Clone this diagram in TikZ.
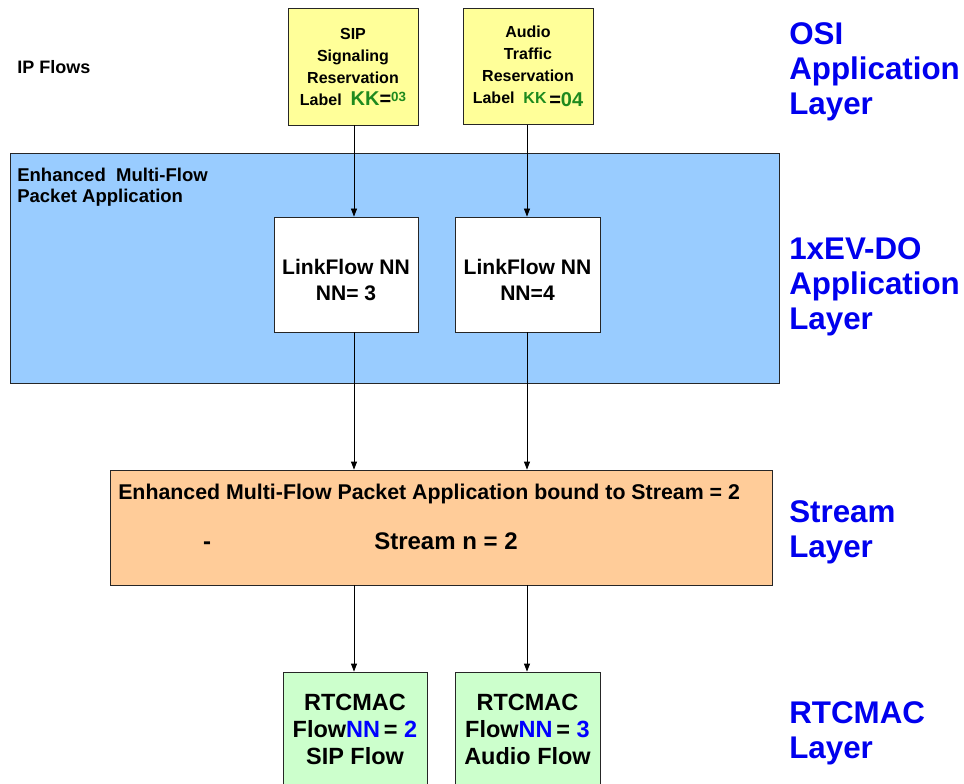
\documentclass[tikz,border=0pt]{standalone}
\usepackage{fontspec}
\setmainfont{Liberation Sans}
\usetikzlibrary{arrows.meta}

\definecolor{ipyellow}{HTML}{FFFF99}
\definecolor{appblue}{HTML}{99CCFF}
\definecolor{streamorange}{HTML}{FFCC99}
\definecolor{macgreen}{HTML}{CCFFCC}
\definecolor{layerblue}{HTML}{0000EE}
\definecolor{kkgreen}{HTML}{1E8A1E}

\def\px{0.75pt}
\newcommand{\fs}[2]{\fontsize{#1}{#2}\selectfont\bfseries}

\begin{document}
\begin{tikzpicture}[x=0.75pt, y=-0.75pt,
  box/.style={draw=black!85, line width=0.6pt, inner sep=0pt, align=center},
  flow/.style={-{Triangle[length=6pt,width=4.5pt]}, line width=0.6pt},
  layer/.style={anchor=north west, inner sep=0pt, align=left, text=layerblue, font=\fs{23.5}{26.3}}]

  % Page frame
  \clip (0,0) rectangle (964,784);

  % Lanes for the vertical connectors
  \coordinate (lane1) at (354,0);
  \coordinate (lane2) at (527,0);
  \coordinate (dashx) at (207,0);

  % IP flows (top)
  \node[anchor=west, inner sep=0pt, font=\fs{13.5}{16}] (ipflows) at (17,67) {IP Flows};
  \node[box, fill=ipyellow, minimum width=130*\px, minimum height=117*\px, font=\fs{12}{16.5}] (sip) at (353,66.5)
    {SIP\\Signaling\\Reservation\\Label\ \ \textcolor{kkgreen}{\fontsize{15}{15}\selectfont KK}{\fontsize{15}{15}\selectfont =}\textcolor{kkgreen}{\raisebox{3pt}{\fontsize{10}{10}\selectfont 03}}};
  \node[box, fill=ipyellow, minimum width=130*\px, minimum height=116*\px, font=\fs{12}{16.5}] (audio) at (528,66.5)
    {Audio\\Traffic\\Reservation\\Label\ \ \textcolor{kkgreen}{KK}\,\raisebox{-2pt}{\fontsize{15}{15}\selectfont =\textcolor{kkgreen}{04}}};

  % 1xEV-DO application block
  \node[box, fill=appblue, minimum width=769*\px, minimum height=230*\px] (app) at (394.5,268) {};
  \node[anchor=north west, inner sep=0pt, align=left, font=\fs{13.9}{15.8}] (apptitle) at (17,168)
    {Enhanced\ \ Multi-Flow\\Packet Application};
  \node[box, fill=white, minimum width=144*\px, minimum height=115*\px, font=\fs{15.8}{19.5}] (link1) at (346,274.5)
    {\rule{0pt}{19pt}LinkFlow NN\\NN= 3};
  \node[box, fill=white, minimum width=145*\px, minimum height=115*\px, font=\fs{15.8}{19.5}] (link2) at (527.5,274.5)
    {\rule{0pt}{19pt}LinkFlow NN\\NN=4};

  % Stream block
  \node[box, fill=streamorange, minimum width=662*\px, minimum height=115*\px] (stream) at (441,527.5) {};
  \node[anchor=west, inner sep=0pt, font=\fs{16}{18}] (bound) at (118,494)
    {Enhanced Multi-Flow Packet Application bound to Stream = 2};
  \node[inner sep=0pt, font=\fs{18}{20}] (streamn) at (446,541) {Stream n = 2};
  \node[anchor=base, inner sep=0pt, font=\fs{18}{20}] (dash) at (dashx |- streamn.base) {-};

  % RTCMAC flows
  \node[box, fill=macgreen, minimum width=144*\px, minimum height=115*\px, font=\fs{17.6}{20}] (mac1) at (355,729.5)
    {RTCMAC\\Flow\textcolor{blue}{NN}\,= \textcolor{blue}{2}\\SIP Flow};
  \node[box, fill=macgreen, minimum width=145*\px, minimum height=115*\px, font=\fs{17.6}{20}] (mac2) at (527.5,729.5)
    {RTCMAC\\Flow\textcolor{blue}{NN}\,= \textcolor{blue}{3}\\Audio Flow};

  % Connectors
  \draw[flow] (lane1 |- sip.south) -- (lane1 |- link1.north);
  \draw[flow] (lane2 |- audio.south) -- (lane2 |- link2.north);
  \draw[flow] (lane1 |- link1.south) -- (lane1 |- stream.north);
  \draw[flow] (lane2 |- link2.south) -- (lane2 |- stream.north);
  \draw[flow] (lane1 |- stream.south) -- (lane1 |- mac1.north);
  \draw[flow] (lane2 |- stream.south) -- (lane2 |- mac2.north);

  % Layer names (right)
  \node[layer] (osi) at (789,22) {OSI\\Application\\Layer};
  \node[layer] (evdo) at (789,237) {1xEV-DO\\Application\\Layer};
  \node[layer] (streamlayer) at (789,500) {Stream\\Layer};
  \node[layer] (maclayer) at (789,701) {RTCMAC\\Layer};
\end{tikzpicture}
\end{document}
